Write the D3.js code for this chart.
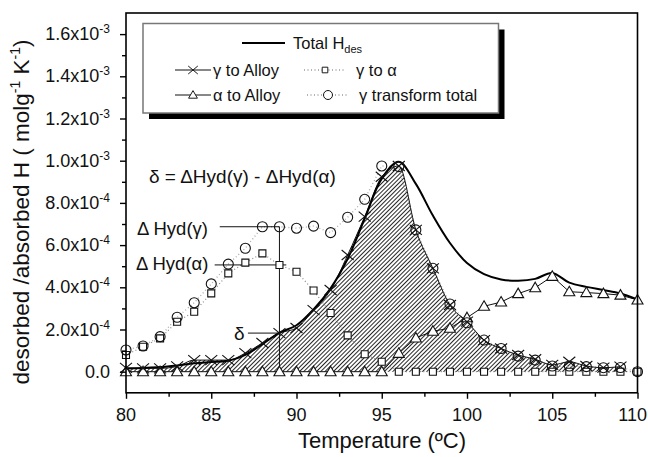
<!DOCTYPE html>
<html>
<head>
<meta charset="utf-8">
<script src="https://cdnjs.cloudflare.com/ajax/libs/d3/7.8.5/d3.min.js"></script>
<style>
  body { margin: 0; background: #fff; }
  svg text { font-family: "Liberation Sans", Arial, sans-serif; fill: #111; }
</style>
</head>
<body>
<svg id="chart" width="648" height="457"></svg>
<script>
// data (temperature in ºC, values in mol g-1 K-1)
var temps = [80,81,82,83,84,85,86,87,88,89,90,91,92,93,94,95,96,97,98,99,100,101,102,103,104,105,106,107,108,109,110];

var totalHdes = [1.5e-5,1.8e-5,2.2e-5,3.0e-5,4.0e-5,4.6e-5,5.2e-5,8.0e-5,1.30e-4,1.85e-4,2.20e-4,2.95e-4,3.95e-4,5.35e-4,7.25e-4,9.15e-4,
  9.95e-4,8.90e-4,7.40e-4,6.10e-4,5.15e-4,4.62e-4,4.37e-4,4.31e-4,4.40e-4,4.68e-4,4.22e-4,4.02e-4,3.87e-4,3.71e-4,3.43e-4];

var gammaToAlloy = [1.8e-5,1.6e-5,1.6e-5,2.5e-5,5.5e-5,5.5e-5,5.5e-5,8.8e-5,1.36e-4,1.83e-4,2.07e-4,2.92e-4,3.87e-4,5.53e-4,7.35e-4,9.24e-4,
  9.75e-4,6.72e-4,4.90e-4,3.16e-4,2.37e-4,1.50e-4,1.10e-4,7.9e-5,5.9e-5,3.2e-5,4.7e-5,2.7e-5,1.9e-5,2.4e-5,null];

var gammaToAlpha = [7.9e-5,1.18e-4,1.58e-4,2.37e-4,2.84e-4,3.71e-4,4.66e-4,5.17e-4,5.61e-4,5.06e-4,4.74e-4,3.85e-4,2.78e-4,1.72e-4,8.3e-5,4.7e-5,
  0,0,0,0,0,0,0,0,0,0,0,0,0,0,0];

var alphaToAlloy = [0,0,0,0,0,0,0,0,0,0,0,0,0,0,0,0,
  8.7e-5,1.60e-4,1.92e-4,2.06e-4,2.56e-4,3.10e-4,3.30e-4,3.70e-4,3.98e-4,4.52e-4,3.79e-4,3.75e-4,3.70e-4,3.63e-4,3.40e-4];

var gammaTotal = [1.03e-4,1.22e-4,1.66e-4,2.58e-4,3.27e-4,4.16e-4,5.10e-4,5.85e-4,6.87e-4,6.87e-4,6.80e-4,6.90e-4,6.59e-4,7.32e-4,8.17e-4,9.75e-4,
  9.72e-4,6.72e-4,4.90e-4,3.21e-4,2.32e-4,1.50e-4,1.10e-4,7.4e-5,5.5e-5,2.7e-5,2.7e-5,2.4e-5,1.9e-5,2.0e-5,0];

var xTicks = [80,85,90,95,100,105,110];
var xMinor = [82.5,87.5,92.5,97.5,102.5,107.5];
var yTicks = [0,2e-4,4e-4,6e-4,8e-4,1e-3,1.2e-3,1.4e-3,1.6e-3];
var yMinor = [1e-4,3e-4,5e-4,7e-4,9e-4,1.1e-3,1.3e-3,1.5e-3];

var svg = d3.select("#chart");

var x = d3.scaleLinear().domain([80,110]).range([126,637.5]);
var y = d3.scaleLinear().domain([-1e-4,1.7e-3]).range([392.8,13]);

function pts(vals) {
  return temps.map(function(t, i){ return {t: t, v: vals[i]}; })
              .filter(function(d){ return d.v !== null; });
}

// hatch pattern for the shaded region
var defs = svg.append("defs");
defs.append("pattern")
    .attr("id", "hatch")
    .attr("patternUnits", "userSpaceOnUse")
    .attr("width", 3).attr("height", 10)
    .attr("patternTransform", "rotate(45)")
  .append("line")
    .attr("x1", 0).attr("y1", 0).attr("x2", 0).attr("y2", 10)
    .attr("stroke", "#000").attr("stroke-width", 1.7);

// shaded area under gamma -> alloy
var area = d3.area()
    .x(function(d){ return x(d.t); })
    .y0(y(0))
    .y1(function(d){ return y(d.v); })
    .curve(d3.curveMonotoneX);

svg.append("path")
    .datum(pts(gammaToAlloy))
    .attr("d", area)
    .attr("fill", "url(#hatch)");

var line = d3.line()
    .x(function(d){ return x(d.t); })
    .y(function(d){ return y(d.v); });

// dotted series
svg.append("path").datum(pts(gammaTotal))
    .attr("d", line).attr("fill", "none")
    .attr("stroke", "#aaa").attr("stroke-width", 1.3).attr("stroke-dasharray", "1,2.5");
svg.append("path").datum(pts(gammaToAlpha))
    .attr("d", line).attr("fill", "none")
    .attr("stroke", "#888").attr("stroke-width", 1.2).attr("stroke-dasharray", "1,2.5");

// solid series
svg.append("path").datum(pts(alphaToAlloy))
    .attr("d", line).attr("fill", "none")
    .attr("stroke", "#111").attr("stroke-width", 1);
svg.append("path").datum(pts(gammaToAlloy))
    .attr("d", line.curve(d3.curveMonotoneX)).attr("fill", "none")
    .attr("stroke", "#111").attr("stroke-width", 1);
svg.append("path").datum(pts(totalHdes))
    .attr("d", d3.line()
      .x(function(d){ return x(d.t); })
      .y(function(d){ return y(d.v); })
      .curve(d3.curveCatmullRom.alpha(0.5)))
    .attr("fill", "none")
    .attr("stroke", "#000").attr("stroke-width", 2);

// annotation lines at 89 ºC
var i89 = temps.indexOf(89);
var ann = svg.append("g").attr("stroke", "#111").attr("stroke-width", 1);
ann.append("line")
    .attr("x1", x(85.5)).attr("x2", x(89))
    .attr("y1", y(gammaTotal[i89])).attr("y2", y(gammaTotal[i89]));
ann.append("line")
    .attr("x1", x(85.2)).attr("x2", x(89.4))
    .attr("y1", y(gammaToAlpha[i89])).attr("y2", y(gammaToAlpha[i89]));
ann.append("line")
    .attr("x1", x(87.15)).attr("x2", x(89))
    .attr("y1", y(gammaToAlloy[i89])).attr("y2", y(gammaToAlloy[i89]));
ann.append("line")
    .attr("x1", x(89)).attr("x2", x(89))
    .attr("y1", y(gammaTotal[i89])).attr("y2", y(0));

// markers
var sym = {
  cross: "M-6,-5L6,5M-6,5L6,-5",
  tri: "M0,-5.5L5.5,4L-5.5,4Z",
  square: "M-3.5,-3.5H3.5V3.5H-3.5Z"
};

function markers(vals, shape, fill) {
  var g = svg.append("g");
  if (shape === "circle") {
    g.selectAll("circle").data(pts(vals)).enter().append("circle")
      .attr("cx", function(d){ return x(d.t); })
      .attr("cy", function(d){ return y(d.v); })
      .attr("r", 5)
      .attr("fill", "none").attr("stroke", "#111").attr("stroke-width", 1.1);
  } else {
    g.selectAll("path").data(pts(vals)).enter().append("path")
      .attr("transform", function(d){ return "translate(" + x(d.t) + "," + y(d.v) + ")"; })
      .attr("d", sym[shape])
      .attr("fill", fill).attr("stroke", "#111").attr("stroke-width", 1.1);
  }
}
markers(gammaToAlpha, "square", "#fff");
markers(alphaToAlloy, "tri", "#fff");
markers(gammaTotal, "circle");
markers(gammaToAlloy, "cross", "none");

// frame
svg.append("rect")
    .attr("x", x(80)).attr("y", y(1.7e-3))
    .attr("width", x(110) - x(80)).attr("height", y(-1e-4) - y(1.7e-3))
    .attr("fill", "none").attr("stroke", "#000").attr("stroke-width", 1.6);

// axes
var xAxis = svg.append("g").attr("transform", "translate(0," + y(-1e-4) + ")");
xAxis.call(d3.axisBottom(x).tickValues(xTicks).tickSize(6).tickSizeOuter(0).tickFormat(""));
xAxis.append("g").call(d3.axisBottom(x).tickValues(xMinor).tickSize(4).tickSizeOuter(0).tickFormat(""));
xAxis.selectAll(".domain").remove();
xAxis.selectAll("line").attr("stroke", "#000").attr("stroke-width", 1.4);

svg.selectAll(".xlab").data(xTicks).enter().append("text")
    .attr("class", "xlab")
    .attr("x", function(d){ return d === 110 ? 647 : x(d); })
    .attr("y", 421)
    .attr("text-anchor", function(d){ return d === 110 ? "end" : "middle"; })
    .style("font-size", "18px")
    .text(function(d){ return d; });

var yAxis = svg.append("g").attr("transform", "translate(" + x(80) + ",0)");
yAxis.call(d3.axisLeft(y).tickValues(yTicks).tickSize(6).tickSizeOuter(0).tickFormat(""));
yAxis.append("g").call(d3.axisLeft(y).tickValues(yMinor).tickSize(4).tickSizeOuter(0).tickFormat(""));
yAxis.selectAll(".domain").remove();
yAxis.selectAll("line").attr("stroke", "#000").attr("stroke-width", 1.4);

// y tick labels like 2.0x10^-4
var ylab = svg.selectAll(".ylab").data(yTicks).enter().append("text")
    .attr("class", "ylab")
    .attr("x", 110)
    .attr("y", function(d){ return y(d) + 6; })
    .attr("text-anchor", "end")
    .style("font-size", "18px");
ylab.each(function(d){
  var t = d3.select(this);
  if (d === 0) { t.text("0.0"); return; }
  var e = Math.floor(Math.log10(d) + 1e-9);
  var m = d / Math.pow(10, e);
  t.append("tspan").text(m.toFixed(1) + "x10");
  t.append("tspan").attr("dy", -7).style("font-size", "12px").text(e);
});

// axis titles
svg.append("text")
    .attr("x", 382).attr("y", 448)
    .attr("text-anchor", "middle")
    .style("font-size", "22px")
    .text("Temperature (ºC)");

var ytitle = svg.append("text")
    .attr("transform", "translate(29,212) rotate(-90)")
    .attr("text-anchor", "middle")
    .style("font-size", "22.5px");
ytitle.append("tspan").text("desorbed /absorbed H ( molg");
ytitle.append("tspan").attr("dy", -9).style("font-size", "14px").text("-1");
ytitle.append("tspan").attr("dy", 9).text(" K");
ytitle.append("tspan").attr("dy", -9).style("font-size", "14px").text("-1");
ytitle.append("tspan").attr("dy", 9).text(")");

// annotation texts
svg.append("text").attr("x", 149).attr("y", 183).style("font-size", "19px")
    .text("δ = ΔHyd(γ) - ΔHyd(α)");
svg.append("text").attr("x", 137).attr("y", 235).style("font-size", "18.5px")
    .text("Δ Hyd(γ)");
svg.append("text").attr("x", 136).attr("y", 270).style("font-size", "18.5px")
    .text("Δ Hyd(α)");
svg.append("text").attr("x", 234).attr("y", 340).style("font-size", "19px")
    .text("δ");

// legend
var lg = svg.append("g");
lg.append("rect").attr("x", 149).attr("y", 29.5).attr("width", 355.5).attr("height", 89.5).attr("fill", "#000");
lg.append("rect").attr("x", 143).attr("y", 23.5).attr("width", 355.5).attr("height", 89.5)
    .attr("fill", "#fff").attr("stroke", "#777").attr("stroke-width", 1.5);

lg.append("line").attr("x1", 242).attr("x2", 285).attr("y1", 43).attr("y2", 43)
    .attr("stroke", "#000").attr("stroke-width", 2);
var tot = lg.append("text").attr("x", 293).attr("y", 49).style("font-size", "16.5px");
tot.append("tspan").text("Total H");
tot.append("tspan").attr("dy", 4).style("font-size", "11px").text("des");

var legendRows = [
  {x: 175, y: 70, shape: "cross", dotted: false, label: "γ to Alloy"},
  {x: 175, y: 95, shape: "tri", dotted: false, label: "α to Alloy"},
  {x: 304, y: 70, shape: "square", dotted: true, label: "γ to α"},
  {x: 307, y: 95, shape: "circle", dotted: true, label: "γ transform total"}
];
legendRows.forEach(function(r){
  var w = r.dotted ? 42 : 36;
  lg.append("line").attr("x1", r.x).attr("x2", r.x + w).attr("y1", r.y).attr("y2", r.y)
      .attr("stroke", r.dotted ? "#999" : "#111")
      .attr("stroke-width", r.dotted ? 1.3 : 1)
      .attr("stroke-dasharray", r.dotted ? "1,2.5" : null);
  if (r.shape === "circle") {
    lg.append("circle").attr("cx", r.x + w / 2).attr("cy", r.y).attr("r", 4.5)
      .attr("fill", "#fff").attr("stroke", "#111");
  } else {
    lg.append("path").attr("transform", "translate(" + (r.x + w / 2) + "," + r.y + ") scale(0.8)")
      .attr("d", sym[r.shape])
      .attr("fill", r.shape === "cross" ? "none" : "#fff").attr("stroke", "#111").attr("stroke-width", 1.2);
  }
  lg.append("text").attr("x", r.x + w + (r.dotted ? 10 : 2)).attr("y", r.y + 6)
      .style("font-size", "16.5px").text(r.label);
});
</script>
</body>
</html>
